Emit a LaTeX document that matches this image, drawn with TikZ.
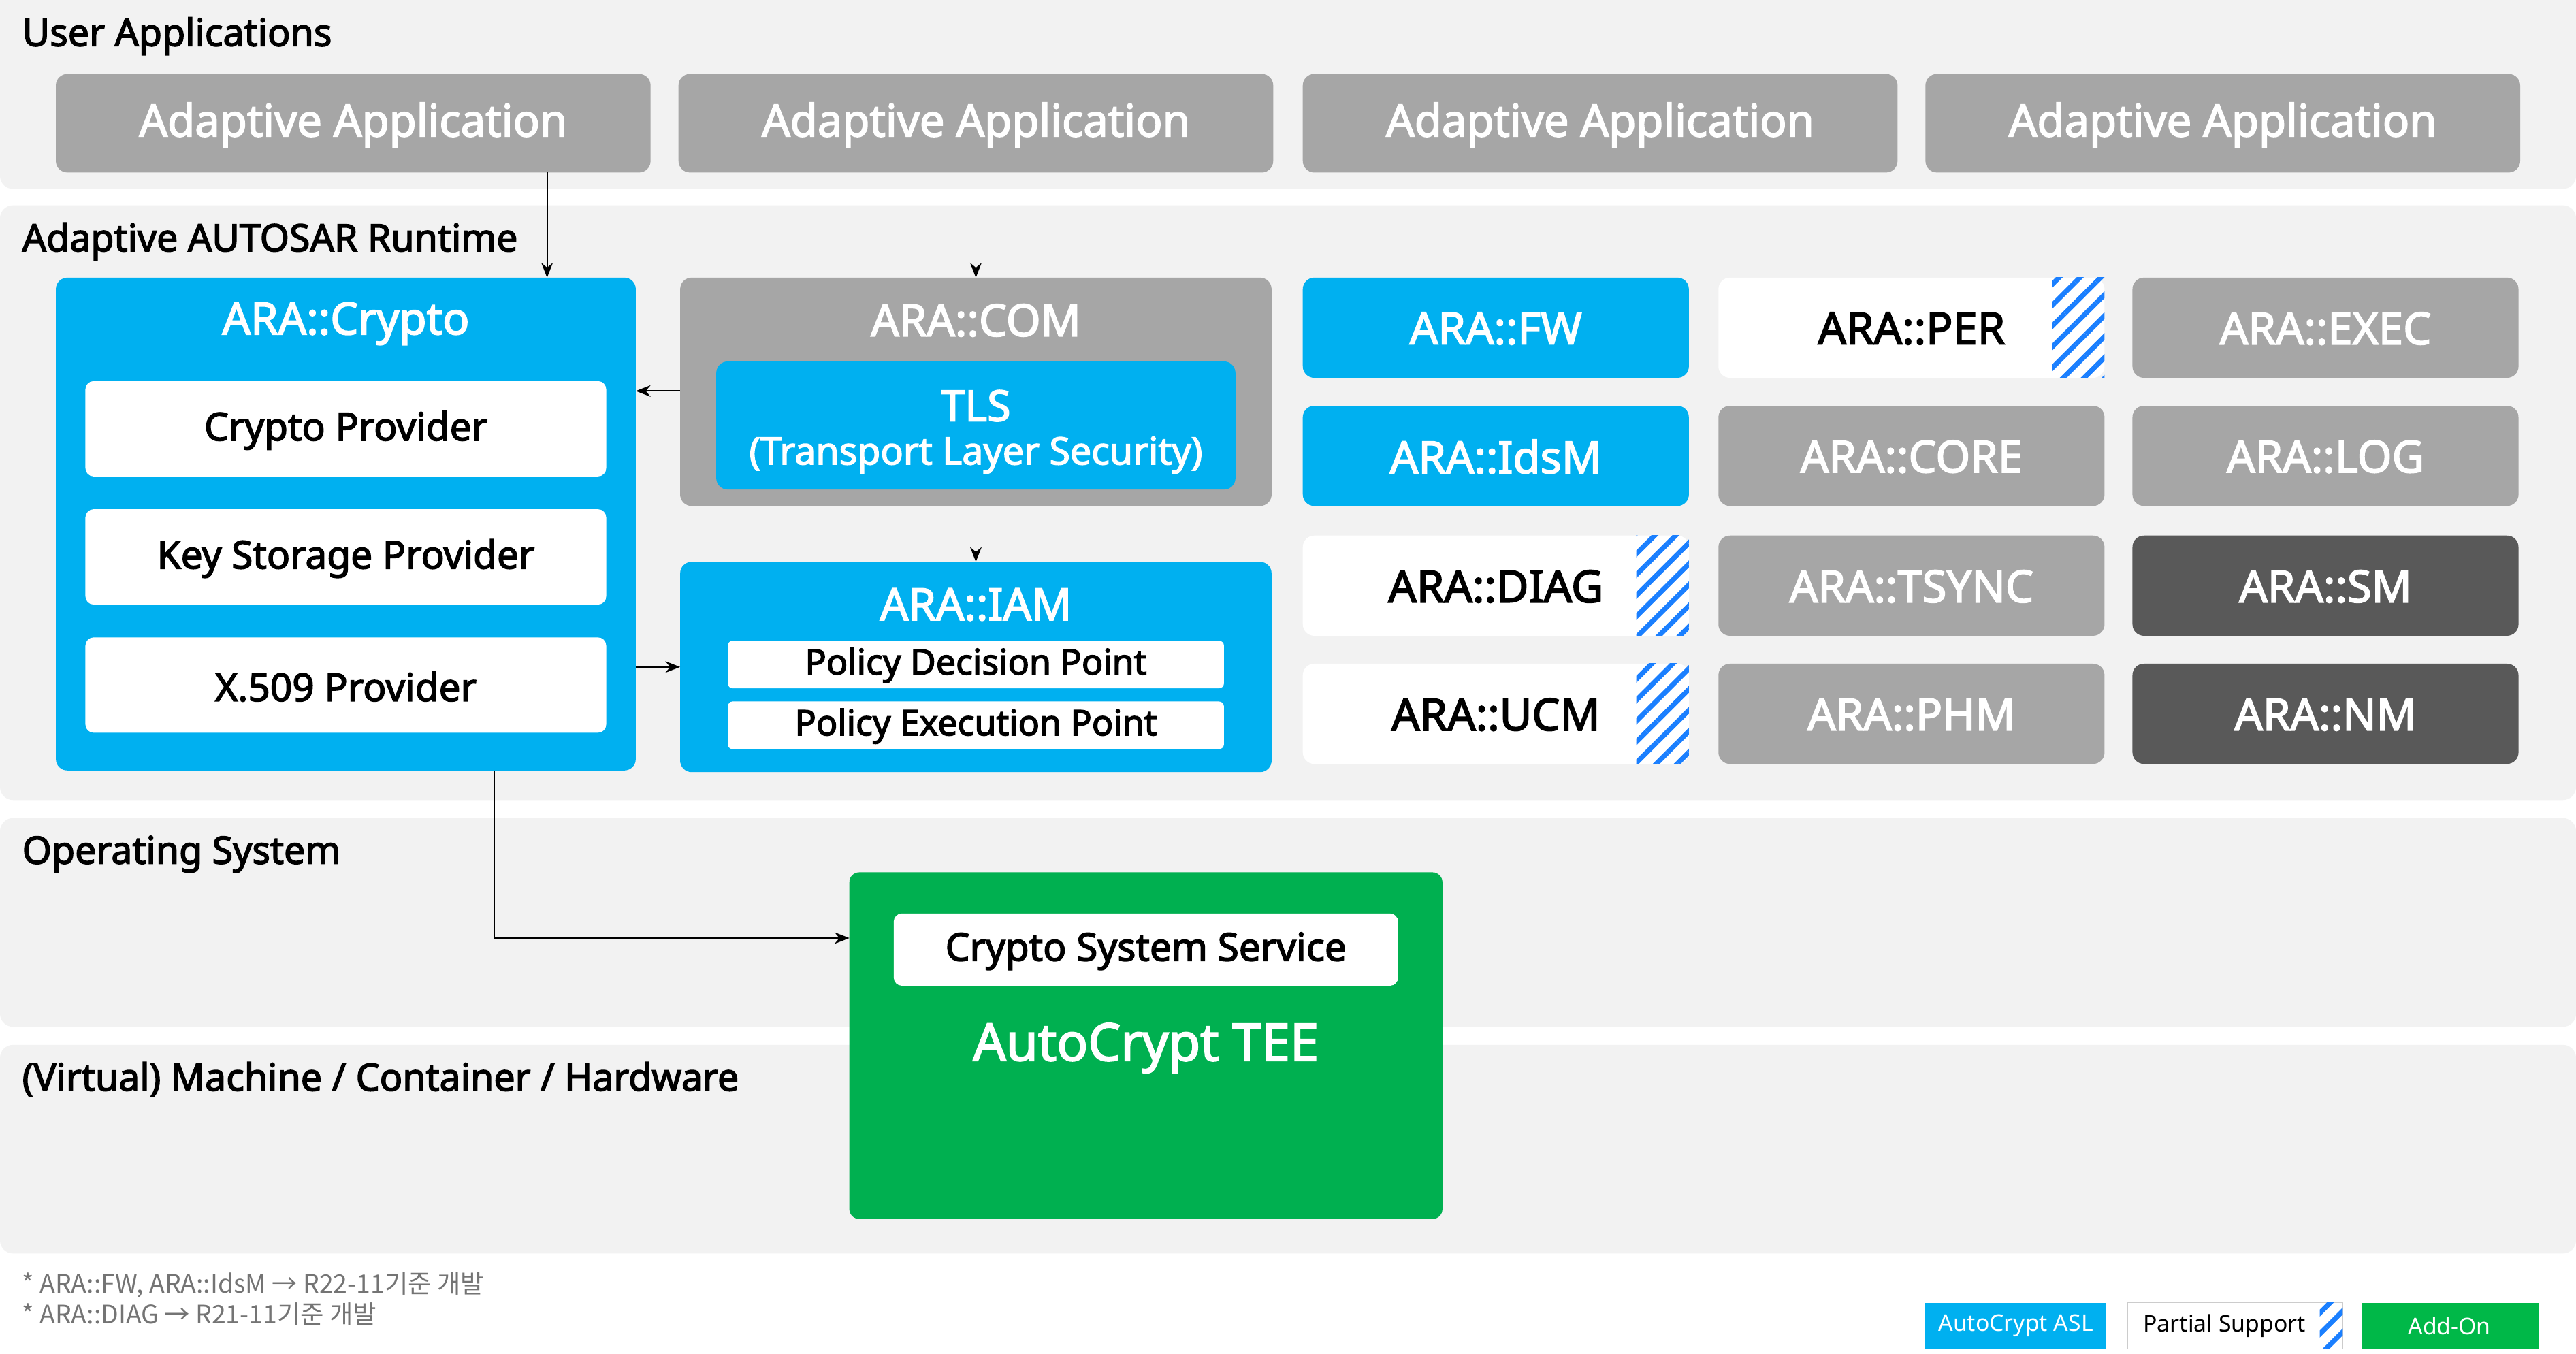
\documentclass[tikz,border=0pt]{standalone}
\usepackage{fontspec}
\setmainfont{Noto Sans}
\newfontfamily\bfam{Noto Sans}[FakeBold=2.6]
\newfontfamily\kr{Noto Sans CJK KR}
\usetikzlibrary{patterns.meta,arrows.meta}
\definecolor{band}{HTML}{F2F2F2}
\definecolor{gr}{HTML}{A6A6A6}
\definecolor{dk}{HTML}{595959}
\definecolor{bl}{HTML}{00B0F0}
\definecolor{gn}{HTML}{00B050}
\definecolor{ht}{HTML}{1A7FFF}
\tikzset{
 bandbox/.style={fill=band,rounded corners=8pt,draw=none},
 bandlabel/.style={anchor=west,font=\bfam\fontsize{23}{26}\selectfont},
 gbox/.style={fill=gr,rounded corners=7pt,text=white,font=\bfam\fontsize{27}{30}\selectfont},
 dbox/.style={fill=dk,rounded corners=7pt,text=white,font=\bfam\fontsize{27}{30}\selectfont},
 bbox/.style={fill=bl,rounded corners=7pt,text=white,font=\bfam\fontsize{27}{30}\selectfont},
 wbox/.style={fill=white,rounded corners=7pt,text=black,font=\bfam\fontsize{27}{30}\selectfont},
 inner/.style={fill=white,rounded corners=5pt,text=black},
 itext/.style={font=\bfam\fontsize{23.5}{26}\selectfont},
 arr/.style={-{Stealth[length=9pt,width=7pt]},line width=0.8pt},
 hatch/.style={pattern={Lines[angle=45,distance=9pt,line width=3pt]},pattern color=ht}
}
\begin{document}
\begin{tikzpicture}[x=1pt,y=-1pt]
\useasboundingbox (0,0) rectangle (1568,824);
\fill[white] (0,0) rectangle (1568,824);
% bands
\path[bandbox] (0,-10) rectangle (1568,115);
\path[bandbox] (0,125) rectangle (1568,487);
\path[bandbox] (0,498) rectangle (1568,625);
\path[bandbox] (0,636) rectangle (1568,763);
\node[bandlabel] (lu) at (10,22) {User Applications};
\node[bandlabel] (lr) at (10,147) {Adaptive AUTOSAR Runtime};
\node[bandlabel] (lo) at (10,520) {Operating System};
\node[bandlabel] (lm) at (10,657) {(Virtual) Machine / Container / Hardware};
% apps
\foreach \i/\x in {1/34,2/413,3/793,4/1172}{
 \path[gbox] (\x,45) rectangle ++(362,60);
 \node[text=white,font=\bfam\fontsize{27}{30}\selectfont] (app\i) at (\x+181,76) {Adaptive Application};
}
\coordinate (a1b) at (333,105);
\coordinate (a2b) at (594,105);
% crypto
\path[bbox] (34,169) rectangle (387,469);
\node[text=white,font=\bfam\fontsize{27}{30}\selectfont] (crt) at (210.5,197) {ARA::Crypto};
\path[inner] (52,232) rectangle (369,290); \node[itext] (cp) at (210.5,262) {Crypto Provider};
\path[inner] (52,310) rectangle (369,368); \node[itext] (ksp) at (210.5,340) {Key Storage Provider};
\path[inner] (52,388) rectangle (369,446); \node[itext] (xp) at (210.5,418) {X.509 Provider};
% com
\path[gbox] (414,169) rectangle (774,308);
\node[text=white,font=\bfam\fontsize{27}{30}\selectfont] (comt) at (594,195) {ARA::COM};
\path[bbox] (436,220) rectangle (752,298);
\node[text=white,font=\bfam\fontsize{26}{28}\selectfont] (tls) at (594,247) {TLS};
\node[text=white,font=\bfam\fontsize{23}{26}\selectfont] (tls2) at (594,277) {(Transport Layer Security)};
% iam
\path[bbox] (414,342) rectangle (774,470);
\node[text=white,font=\bfam\fontsize{27}{30}\selectfont] (iamt) at (594,368) {ARA::IAM};
\path[inner,rounded corners=3pt] (443,390) rectangle (745,419); \node[font=\bfam\fontsize{21.5}{24}\selectfont] (pdp) at (594,405) {Policy Decision Point};
\path[inner,rounded corners=3pt] (443,427) rectangle (745,456); \node[font=\bfam\fontsize{21.5}{24}\selectfont] (pep) at (594,442) {Policy Execution Point};
% grid
\def\cell#1#2#3#4#5{\path[#3] (#1,#2) rectangle ++(235,61); \node[#3,fill=none,draw=none] (#4) at (#1+117.5,#2+31) {#5};}
\def\hcell#1#2#3#4{\path[wbox] (#1,#2) rectangle ++(235,61);
 \fill[hatch] (#1+203,#2) rectangle ++(32,61);
 \node[text=black,font=\bfam\fontsize{27}{30}\selectfont] (#3) at (#1+117.5,#2+31) {#4};}
\cell{793}{169}{bbox}{fw}{ARA::FW}
\hcell{1046}{169}{per}{ARA::PER}
\cell{1298}{169}{gbox}{exec}{ARA::EXEC}
\cell{793}{247}{bbox}{idsm}{ARA::IdsM}
\cell{1046}{247}{gbox}{core}{ARA::CORE}
\cell{1298}{247}{gbox}{log}{ARA::LOG}
\hcell{793}{326}{diag}{ARA::DIAG}
\cell{1046}{326}{gbox}{tsync}{ARA::TSYNC}
\cell{1298}{326}{dbox}{sm}{ARA::SM}
\hcell{793}{404}{ucm}{ARA::UCM}
\cell{1046}{404}{gbox}{phm}{ARA::PHM}
\cell{1298}{404}{dbox}{nm}{ARA::NM}
% TEE
\path[fill=gn,rounded corners=6pt] (517,531) rectangle (878,742);
\path[inner] (544,556) rectangle (851,600);
\node[itext] (css) at (697.5,579) {Crypto System Service};
\node[text=white,font=\bfam\fontsize{31.5}{34}\selectfont] (tee) at (697.5,638) {AutoCrypt TEE};
\coordinate (teel) at (517,571);
% arrows
\draw[arr] (a1b) -- (333,169);
\draw[arr] (a2b) -- (594,169);
\draw[arr] (414,238) -- (387,238);
\draw[arr] (594,308) -- (594,342);
\draw[arr] (387,406) -- (414,406);
\draw[arr] (301,469) -- (301,571) -- (teel);
% footnotes
\node[anchor=west,text=gr!70!black,font=\kr\fontsize{15.5}{17}\selectfont] (f1) at (10,782) {* ARA::FW, ARA::IdsM → R22-11기준 개발};
\node[anchor=west,text=gr!70!black,font=\kr\fontsize{15.5}{17}\selectfont] (f2) at (10,800) {* ARA::DIAG → R21-11기준 개발};
% legend
\path[fill=bl] (1172,793) rectangle (1282,821);
\node[text=white,font=\fontsize{14}{16}\selectfont] (lg1) at (1227,807) {AutoCrypt ASL};
\path[fill=white,draw=gray!40] (1295,793) rectangle (1426,821);
\fill[hatch] (1412,793) rectangle (1426,821);
\node[font=\fontsize{14}{16}\selectfont] (lg2) at (1354,807) {Partial Support};
\path[fill=gn!90!green] (1438,793) rectangle (1545,821);
\node[text=white,font=\fontsize{14}{16}\selectfont] (lg3) at (1491,807) {Add-On};
\end{tikzpicture}
\end{document}
